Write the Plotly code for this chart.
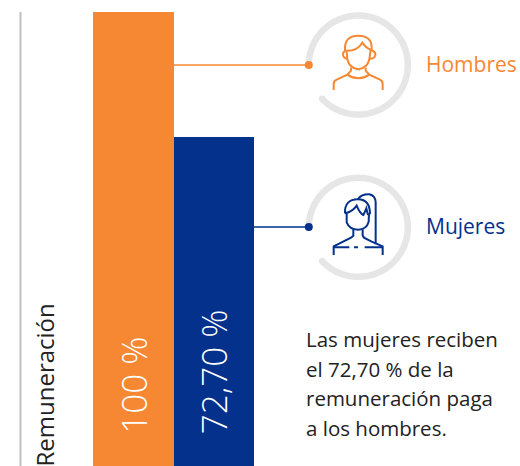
import re
import numpy as np
import plotly.graph_objects as go

categories = ["Hombres", "Mujeres"]
values = [100, 72.70]
value_labels = ["100 %", "72,70 %"]
axis_title = "Remuneración"
note_lines = ["Las mujeres reciben", "el 72,70 % de la", "remuneración paga", "a los hombres."]
ORANGE = "#F68733"
NAVY = "#03318C"
GRAY = "#E6E6E6"
W, H = 520, 466
FONT = "Open Sans"

def px(x): return x / W
def py(y): return 1 - y / H

unit_x = 80.5
x_left = -0.5 - 93 / unit_x
x_right = x_left + W / unit_x
unit_y = 4.58
y_top = 100 + 12 / unit_y
y_bottom = y_top - H / unit_y

fig = go.Figure(go.Bar(x=[0, 1], y=values, width=1, marker=dict(color=[ORANGE, NAVY], line=dict(width=0)),
                       hoverinfo="skip"))
shapes, ann = [], []

def zoom_path(s, ox, oy):
    toks = re.findall(r"[A-Za-z]|-?\d+\.?\d*", s)
    res, i = "", 0
    for t in toks:
        if t.isalpha():
            res += t; i = 0
        else:
            v = float(t)
            val = px(v / 3 + ox) if i % 2 == 0 else py(v / 3 + oy)
            res += f"{val:.5f} "
            i += 1
    return res

def add_path(s, ox, oy, color, width=2):
    shapes.append(dict(type="path", xref="paper", yref="paper", path=zoom_path(s, ox, oy),
                       line=dict(color=color, width=width), layer="above"))

def dot(cx, cy, r, color):
    shapes.append(dict(type="circle", xref="paper", yref="paper", x0=px(cx - r), x1=px(cx + r),
                       y0=py(cy + r), y1=py(cy - r), fillcolor=color, line=dict(width=0), layer="above"))

def ring(cx, cy, color, x_start, y_line):
    r = 49.5
    a = np.radians(np.linspace(180, 180 + 317, 140))
    xs, ys = cx + r * np.cos(a), cy + r * np.sin(a)
    p = "M" + " L".join(f"{px(x):.5f} {py(y):.5f}" for x, y in zip(xs, ys))
    shapes.append(dict(type="path", xref="paper", yref="paper", path=p, line=dict(color=GRAY, width=6.5), layer="above"))
    dot(xs[-1], ys[-1], 3.25, GRAY)
    dot(xs[0], ys[0], 3.25, GRAY)
    shapes.append(dict(type="line", xref="paper", yref="paper", x0=px(x_start), x1=px(cx - r), y0=py(y_line), y1=py(y_line),
                       line=dict(color=color, width=1.4), layer="above"))
    dot(cx - r, y_line, 4, color)

ring(358.3, 65, ORANGE, 173.5, 65)
ring(358.3, 227.3, NAVY, 254, 227)

man = [
 "M131 270 L131 252 Q131 243 140 239 L172 224 L183 212 L183 203",
 "M278 270 L278 252 Q278 243 270 239 L238 224 L227 212 L227 203",
 "M172 224 Q205 246 238 224",
 "M200 209 L202 209 M208 209 L210 209",
 "M170 155 L172 178 Q178 205 205 208 Q232 205 238 178 L242 148",
 "M165 152 Q162 107 205 107 Q248 107 245 150",
 "M165 152 Q200 155 217 128 Q228 145 245 150",
 "M167 152 Q156 158 160 168 Q163 176 172 176",
 "M243 150 Q258 155 256 166 Q254 176 238 176",
]
for s in man:
    add_path(s, 290, 0, ORANGE)

woman = [
 "M131 270 L131 244 L183 218 L190 212 L190 193",
 "M278 270 L278 244 L245 230 L222 218 L218 212 L218 193",
 "M131 247 L178 247 M192 247 L204 247 M224 247 L276 247",
 "M170 145 L170 172 Q178 193 204 194 Q230 193 236 170 L237 145",
 "M165 145 Q163 103 204 103 Q240 103 240 148",
 "M165 145 Q188 140 200 122 Q210 146 220 150 Q226 138 229 130 L234 150",
 "M204 102 Q215 87 238 88 Q256 92 257 112 L257 238",
]
for s in woman:
    add_path(s, 290, 165, NAVY)

ann.append(dict(text=categories[0], x=px(424), y=py(64), xanchor="left", yanchor="middle", showarrow=False,
                xref="paper", yref="paper", font=dict(family=FONT, size=21, weight=400, color=ORANGE)))
ann.append(dict(text=categories[1], x=px(424), y=py(226), xanchor="left", yanchor="middle", showarrow=False,
                xref="paper", yref="paper", font=dict(family=FONT, size=21, weight=400, color=NAVY)))
for i, (v, lab) in enumerate(zip(values, value_labels)):
    ann.append(dict(text=lab, x=i + 0.0, y=(470 - 436) / unit_y, xref="x", yref="y", textangle=-90,
                    xanchor="center", yanchor="bottom", showarrow=False,
                    font=dict(family=FONT, size=35, weight=300, color="white")))
ann.append(dict(text=axis_title, x=px(44), y=py(469), xref="paper", yref="paper", textangle=-90,
                xanchor="center", yanchor="bottom", showarrow=False,
                font=dict(family=FONT, size=24, weight=400, color="#222222")))
for line, y in zip(note_lines, [339, 368.5, 398, 428]):
    ann.append(dict(text=line, x=px(304), y=py(y), xref="paper", yref="paper", xanchor="left", yanchor="middle",
                    showarrow=False, font=dict(family=FONT, size=20.5, weight=400, color="#222222")))

shapes.append(dict(type="line", xref="paper", yref="paper", x0=px(20.5), x1=px(20.5), y0=py(12), y1=py(466),
                   line=dict(color="#BFBFBF", width=2)))

fig.update_layout(width=W, height=H, margin=dict(l=0, r=0, t=0, b=0), autosize=False, showlegend=False,
                  paper_bgcolor="white", plot_bgcolor="white", shapes=shapes, annotations=ann, bargap=0,
                  xaxis=dict(range=[x_left, x_right], visible=False, fixedrange=True),
                  yaxis=dict(range=[y_bottom, y_top], visible=False, fixedrange=True))
fig.write_html("out.html", config=dict(displayModeBar=False),
               post_script="document.body.style.margin='0';document.body.style.overflow='hidden';")
